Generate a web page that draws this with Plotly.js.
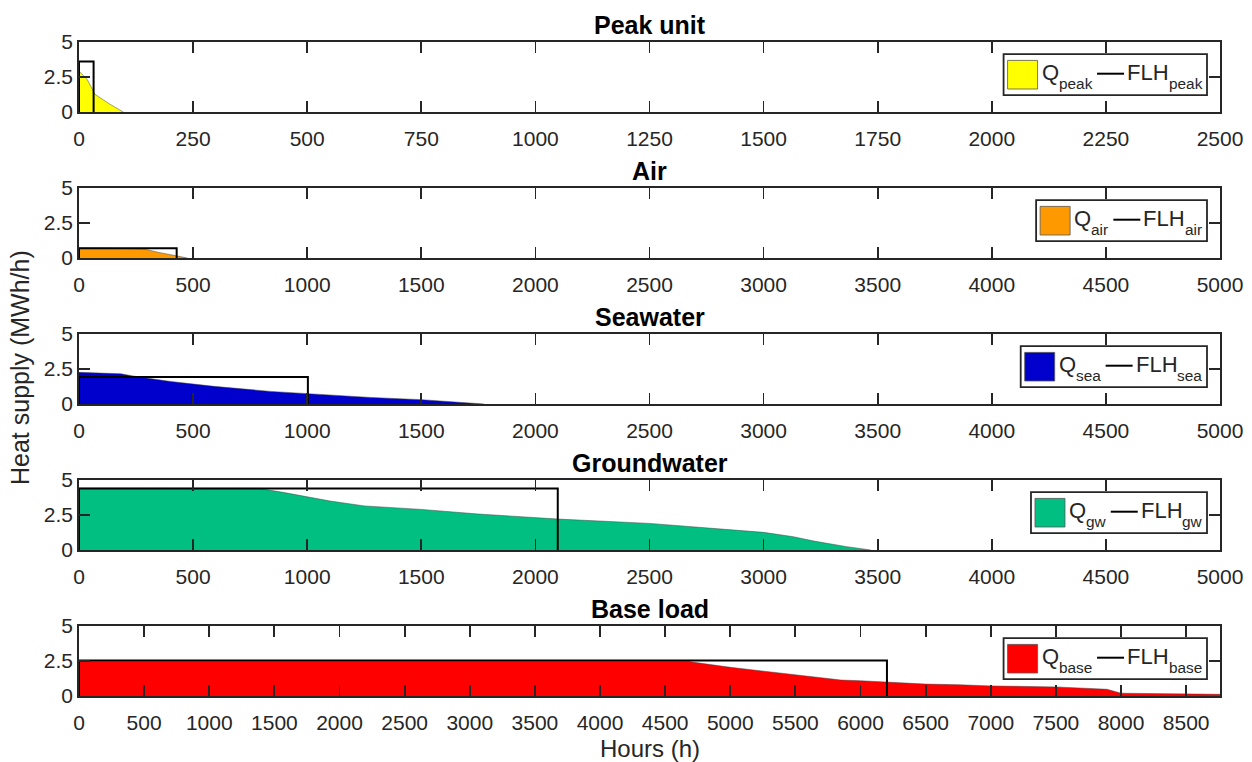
<!DOCTYPE html>
<html>
<head>
<meta charset="utf-8">
<script src="https://cdn.plot.ly/plotly-3.0.1.min.js"></script>
<style>
html,body{margin:0;padding:0;background:#fff;}
#chart{width:1252px;height:762px;}
</style>
</head>
<body>
<div id="chart"></div>
<script>
// ---------------- data ----------------
const panelTitles = ['Peak unit', 'Air', 'Seawater', 'Groundwater', 'Base load'];
const seriesSubs  = ['peak', 'air', 'sea', 'gw', 'base'];
const xMax   = [2500, 5000, 5000, 5000, 8760];
const xDtick = [250, 500, 500, 500, 500];
const yTickVals = [0, 2.5, 5];
const yTickText = ['0', '2.5', '5'];

const peakHours = [0, 18, 35, 68, 97];
const peakQ     = [2.92, 2.32, 1.26, 0.55, 0];

const airHours = [0, 100, 200, 280, 350, 428, 475];
const airQ     = [0.72, 0.70, 0.68, 0.66, 0.40, 0.14, 0];

const seaHours = [0, 183, 248, 402, 592, 840, 1003, 1278, 1502, 1650, 1775];
const seaQ     = [2.26, 2.16, 1.97, 1.61, 1.26, 0.90, 0.74, 0.47, 0.31, 0.15, 0];

const gwHours = [0, 790, 900, 1000, 1100, 1250, 1500, 1750, 2000, 2100, 2500, 3000, 3130, 3220, 3364, 3470];
const gwQ     = [4.42, 4.40, 4.10, 3.80, 3.50, 3.15, 2.90, 2.57, 2.30, 2.21, 1.90, 1.26, 0.95, 0.64, 0.24, 0];

const baseHours = [0, 4680, 5000, 5500, 5850, 6000, 6210, 6500, 6766, 7000, 7500, 7893, 8000, 8740, 8760];
const baseQ     = [2.46, 2.46, 2.05, 1.50, 1.14, 1.09, 0.97, 0.85, 0.80, 0.72, 0.65, 0.48, 0.20, 0.12, 0.12];

const flhHours = [32, 428, 1003, 2098, 6203];
const flhLevel = [3.6, 0.70, 1.93, 4.40, 2.54];

const areaColors = ['#FFFF00', '#FF9900', '#0000CC', '#00BF80', '#FF0000'];

const seriesHours = [peakHours, airHours, seaHours, gwHours, baseHours];
const seriesQ     = [peakQ, airQ, seaQ, gwQ, baseQ];

// ---------------- layout geometry ----------------
const W = 1252, H = 762;
const PL = 79, PR = 1220;           // plot area left/right in px
const PW = PR - PL;
const panelTop = [42, 188, 334, 480, 626];
const panelH = 70;
const FONT = '"Liberation Sans", Arial, Helvetica, sans-serif';
const AX = '#262626';

const px2x = p => (p - PL) / PW;
const px2y = p => 1 - p / H;

const ctx = document.createElement('canvas').getContext('2d');
function tw(text, size) { ctx.font = size + 'px "Liberation Sans"'; return ctx.measureText(text).width; }

const traces = [];
const layout = {
  width: W, height: H,
  margin: {l: PL, r: W - PR, t: 0, b: 0, autoexpand: false},
  paper_bgcolor: '#fff', plot_bgcolor: '#fff',
  showlegend: false,
  font: {family: FONT, color: AX},
  shapes: [], annotations: []
};

function txt(text, xpx, ypx, size, color, xanchor, extra) {
  return Object.assign({xref: 'paper', yref: 'paper', x: px2x(xpx), y: px2y(ypx),
    xanchor: xanchor, yanchor: 'middle', borderpad: 0, showarrow: false,
    text: text, font: {size: size, color: color, family: FONT}}, extra || {});
}

for (let i = 0; i < 5; i++) {
  const n = i === 0 ? '' : String(i + 1);
  const xName = 'x' + n, yName = 'y' + n;
  const top = panelTop[i];
  layout['xaxis' + n] = {
    domain: [0, 1], anchor: yName, range: [0, xMax[i]], tick0: 0, dtick: xDtick[i],
    showline: true, linecolor: AX, linewidth: 1.8, mirror: 'ticks',
    ticks: 'inside', ticklen: 11, tickwidth: 1.8, tickcolor: AX, ticklabelstandoff: 7,
    tickfont: {size: 21, color: AX, family: FONT},
    showgrid: false, zeroline: false, fixedrange: true
  };
  layout['yaxis' + n] = {
    domain: [px2y(top + panelH), px2y(top)], anchor: xName, range: [0, 5],
    tickvals: yTickVals, ticktext: yTickText,
    showline: true, linecolor: AX, linewidth: 1.8, mirror: 'ticks',
    ticks: 'inside', ticklen: 11, tickwidth: 1.8, tickcolor: AX,
    tickfont: {size: 21, color: AX, family: FONT},
    showgrid: false, zeroline: false, fixedrange: true
  };

  traces.push({
    type: 'scatter', mode: 'lines', x: seriesHours[i], y: seriesQ[i],
    xaxis: xName, yaxis: yName, fill: 'tozeroy', fillcolor: areaColors[i],
    line: {color: 'rgba(60,60,60,0.8)', width: 0.6}, hoverinfo: 'skip'
  });
  traces.push({
    type: 'scatter', mode: 'lines',
    x: [0, 0, flhHours[i], flhHours[i]], y: [0, flhLevel[i], flhLevel[i], 0],
    xaxis: xName, yaxis: yName, line: {color: '#000', width: 2}, hoverinfo: 'skip'
  });

  // panel title
  layout.annotations.push(txt('<b>' + panelTitles[i] + '</b>', (PL + PR) / 2, top - 17, 25, '#000', 'center'));

  // legend (box, patch, line, texts)
  const fs = 22, ss = 15.4;
  const sub = seriesSubs[i];
  const bR = 1207;
  const wF = tw('FLH', fs), wQ = tw('Q', fs), wS = tw(sub, ss);
  const flhL = bR - 6 - (wF + wS);
  const lnR = flhL - 2, lnL = lnR - 27;
  const qR = lnL - 6, qL = qR - (wQ + wS);
  const pR = qL - 3, pL = pR - 30;
  const bL = pL - 4;
  const cy = top + panelH / 2 - 2.3;
  layout.shapes.push({type: 'rect', xref: 'paper', yref: 'paper', layer: 'above',
    x0: px2x(bL), x1: px2x(bR), y0: px2y(cy + 20.5), y1: px2y(cy - 20.5),
    fillcolor: '#fff', line: {color: AX, width: 1.8}});
  layout.shapes.push({type: 'rect', xref: 'paper', yref: 'paper', layer: 'above',
    x0: px2x(pL), x1: px2x(pR), y0: px2y(cy + 14.3), y1: px2y(cy - 14.3),
    fillcolor: areaColors[i], line: {color: '#555', width: 0.8}});
  layout.shapes.push({type: 'line', xref: 'paper', yref: 'paper', layer: 'above',
    x0: px2x(lnL), x1: px2x(lnR), y0: px2y(cy - 1), y1: px2y(cy - 1),
    line: {color: '#000', width: 2}});
  layout.annotations.push(txt('Q', qL, cy - 2.6, fs, AX, 'left'));
  layout.annotations.push(txt(sub, qL + wQ, cy + 8.3, ss, AX, 'left'));
  layout.annotations.push(txt('FLH', flhL, cy - 2.6, fs, AX, 'left'));
  layout.annotations.push(txt(sub, flhL + wF, cy + 8.3, ss, AX, 'left'));
}

// axis titles
layout.annotations.push(txt('Heat supply (MWh/h)', 20, 368, 25, AX, 'center', {textangle: -90}));
layout.annotations.push(txt('Hours (h)', (PL + PR) / 2, 748, 24, AX, 'center'));

Plotly.newPlot('chart', traces, layout, {staticPlot: true, displayModeBar: false});
</script>
</body>
</html>
